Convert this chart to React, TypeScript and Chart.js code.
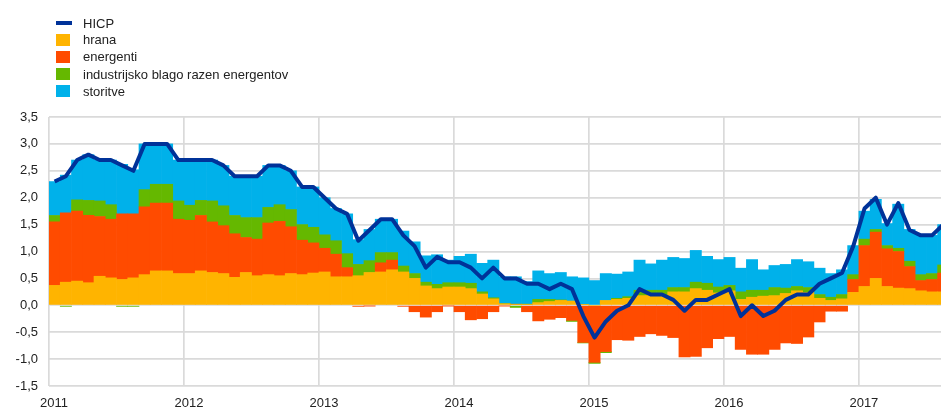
import React, { useEffect, useRef } from 'react';
import { Chart, registerables } from 'chart.js';

Chart.register(...registerables);

// ---- data ----
const years = ['2011', '2012', '2013', '2014', '2015', '2016', '2017'];
const yearTickValues = [0, 12, 24, 36, 48, 60, 72];
const seriesNames = ['HICP', 'hrana', 'energenti', 'industrijsko blago razen energentov', 'storitve'];

const hicp = [
  2.3, 2.4, 2.7, 2.8, 2.7, 2.7, 2.6, 2.5, 3.0, 3.0, 3.0, 2.7,
  2.7, 2.7, 2.7, 2.6, 2.4, 2.4, 2.4, 2.6, 2.6, 2.5, 2.2, 2.2,
  2.0, 1.8, 1.7, 1.2, 1.4, 1.6, 1.6, 1.3, 1.1, 0.7, 0.9, 0.8,
  0.8, 0.7, 0.5, 0.7, 0.5, 0.5, 0.4, 0.4, 0.3, 0.4, 0.3, -0.2,
  -0.6, -0.3, -0.1, 0.0, 0.3, 0.2, 0.2, 0.1, -0.1, 0.1, 0.1, 0.2,
  0.3, -0.2, 0.0, -0.2, -0.1, 0.1, 0.2, 0.2, 0.4, 0.5, 0.6, 1.1,
  1.8, 2.0, 1.5, 1.9, 1.4, 1.3, 1.3, 1.5,
];

const food = [
  0.37, 0.43, 0.45, 0.42, 0.54, 0.51, 0.48, 0.51, 0.57, 0.64, 0.64, 0.59,
  0.59, 0.64, 0.61, 0.59, 0.52, 0.61, 0.55, 0.57, 0.55, 0.59, 0.57, 0.60,
  0.62, 0.53, 0.53, 0.55, 0.61, 0.62, 0.66, 0.62, 0.50, 0.36, 0.31, 0.34,
  0.34, 0.31, 0.21, 0.12, 0.03, 0.02, 0.02, 0.05, 0.07, 0.09, 0.08, 0.01,
  0.00, 0.09, 0.11, 0.13, 0.18, 0.18, 0.18, 0.25, 0.25, 0.31, 0.28, 0.23,
  0.27, 0.11, 0.15, 0.17, 0.18, 0.22, 0.27, 0.24, 0.13, 0.09, 0.12, 0.24,
  0.35, 0.50, 0.35, 0.32, 0.31, 0.27, 0.25, 0.25,
];

const energy = [
  1.18, 1.29, 1.30, 1.25, 1.11, 1.09, 1.22, 1.19, 1.26, 1.26, 1.26, 1.01,
  0.99, 1.03, 0.94, 0.89, 0.81, 0.65, 0.68, 0.96, 1.01, 0.87, 0.64, 0.56,
  0.44, 0.42, 0.17, -0.02, -0.01, 0.17, 0.18, -0.02, -0.12, -0.22, -0.12, -0.01,
  -0.12, -0.27, -0.25, -0.12, -0.01, 0.00, -0.12, -0.29, -0.26, -0.23, -0.28, -0.69,
  -1.06, -0.86, -0.64, -0.65, -0.58, -0.53, -0.56, -0.60, -0.96, -0.95, -0.79, -0.62,
  -0.58, -0.82, -0.91, -0.91, -0.82, -0.70, -0.71, -0.59, -0.31, -0.11, -0.11, 0.24,
  0.76, 0.86, 0.70, 0.68, 0.41, 0.19, 0.23, 0.35,
];

const industrial = [
  0.12, -0.02, 0.21, 0.28, 0.29, 0.27, -0.02, -0.02, 0.32, 0.35, 0.35, 0.34,
  0.28, 0.28, 0.39, 0.37, 0.34, 0.37, 0.40, 0.29, 0.31, 0.32, 0.29, 0.29,
  0.25, 0.25, 0.26, 0.21, 0.22, 0.19, 0.14, 0.11, 0.09, 0.07, 0.08, 0.08,
  0.08, 0.10, 0.04, 0.02, 0.00, -0.04, 0.00, 0.06, 0.04, 0.01, -0.02, -0.01,
  -0.02, -0.02, 0.02, 0.03, 0.10, 0.10, 0.10, 0.08, 0.08, 0.12, 0.13, 0.11,
  0.10, 0.14, 0.13, 0.11, 0.15, 0.10, 0.08, 0.09, 0.07, 0.06, 0.08, 0.09,
  0.12, 0.05, 0.06, 0.06, 0.10, 0.11, 0.11, 0.15,
];

const services = [
  0.63, 0.70, 0.74, 0.85, 0.76, 0.83, 0.92, 0.82, 0.85, 0.75, 0.75, 0.76,
  0.84, 0.75, 0.76, 0.75, 0.73, 0.77, 0.77, 0.78, 0.73, 0.72, 0.70, 0.75,
  0.69, 0.60, 0.74, 0.46, 0.58, 0.62, 0.62, 0.65, 0.59, 0.49, 0.55, 0.42,
  0.49, 0.54, 0.53, 0.70, 0.50, 0.51, 0.42, 0.53, 0.48, 0.51, 0.45, 0.50,
  0.46, 0.50, 0.45, 0.46, 0.56, 0.49, 0.56, 0.56, 0.54, 0.59, 0.50, 0.51,
  0.52, 0.44, 0.57, 0.38, 0.41, 0.44, 0.50, 0.48, 0.49, 0.44, 0.46, 0.54,
  0.52, 0.56, 0.41, 0.82, 0.59, 0.74, 0.71, 0.75,
];

const colors = ['#003299', '#FFB400', '#FF4B00', '#65B800', '#00B1EA'];

const FONT = '"Liberation Sans", Arial, sans-serif';
const TEXT = '#222222';

const toPoints = (arr: number[]) => arr.map((v, i) => ({ x: i + 0.5, y: v }));

export default function App() {
  const canvasRef = useRef<HTMLCanvasElement | null>(null);

  useEffect(() => {
    const canvas = canvasRef.current;
    if (!canvas) return;
    const barSeries = [food, energy, industrial, services];
    const chart = new Chart(canvas, {
      type: 'bar',
      data: {
        datasets: [
          {
            type: 'line',
            label: seriesNames[0],
            data: toPoints(hicp),
            borderColor: colors[0],
            backgroundColor: colors[0],
            borderWidth: 4,
            pointRadius: 0,
            tension: 0,
            borderJoinStyle: 'round',
            order: 0,
            stack: 'line',
          } as any,
          ...barSeries.map((s, k) => ({
            type: 'bar' as const,
            label: seriesNames[k + 1],
            data: toPoints(s),
            backgroundColor: colors[k + 1],
            borderWidth: 0,
            barPercentage: 1,
            categoryPercentage: 1,
            order: 1,
            stack: 'bars',
          })),
        ],
      },
      options: {
        animation: false,
        responsive: false,
        devicePixelRatio: 1,
        layout: { padding: { top: 117, left: 0, right: 0, bottom: 0 } },
        plugins: { legend: { display: false }, tooltip: { enabled: false } },
        scales: {
          x: {
            type: 'linear',
            stacked: true,
            min: 0,
            max: 79.3,
            offset: false,
            grid: { offset: false, color: '#dadada', lineWidth: 1.7, drawTicks: false },
            border: { display: false },
            afterBuildTicks: (scale: any) => {
              scale.ticks = yearTickValues.map((v) => ({ value: v }));
            },
            afterFit: (scale: any) => {
              scale.height = 22;
            },
            ticks: {
              autoSkip: false,
              maxRotation: 0,
              padding: 10,
              labelOffset: 5,
              color: TEXT,
              font: { family: FONT, size: 13 },
              callback: (value: any) => years[yearTickValues.indexOf(Number(value))] ?? '',
            },
          },
          y: {
            stacked: true,
            min: -1.5,
            max: 3.5,
            grid: { color: '#dadada', lineWidth: 1.7, drawTicks: false },
            border: { display: false },
            afterFit: (scale: any) => {
              scale.width = 49;
            },
            ticks: {
              stepSize: 0.5,
              padding: 11,
              color: TEXT,
              font: { family: FONT, size: 13 },
              callback: (value: any) => Number(value).toFixed(1).replace('.', ','),
            },
          },
        },
      } as any,
    });
    return () => chart.destroy();
  }, []);

  const rowCenters = [23, 39.5, 56.5, 74, 91];

  return (
    <div style={{ position: 'fixed', left: 0, top: 0, width: 941, height: 408, background: '#fff', overflow: 'hidden' }}>
      <canvas ref={canvasRef} width={941} height={408} style={{ display: 'block', width: 941, height: 408 }} />
      {seriesNames.map((name, i) => (
        <div
          key={name}
          style={{
            position: 'absolute',
            left: 56,
            top: rowCenters[i] - 9,
            height: 18,
            display: 'flex',
            alignItems: 'center',
            font: `13px ${FONT}`,
            color: TEXT,
            whiteSpace: 'nowrap',
          }}
        >
          <div style={{ width: 27, height: 18, position: 'relative' }}>
            {i === 0 ? (
              <div style={{ position: 'absolute', left: 0, top: 7, width: 16, height: 4, background: colors[0] }} />
            ) : (
              <div style={{ position: 'absolute', left: 0, top: 3, width: 14, height: 12, background: colors[i] }} />
            )}
          </div>
          <span>{name}</span>
        </div>
      ))}
    </div>
  );
}
